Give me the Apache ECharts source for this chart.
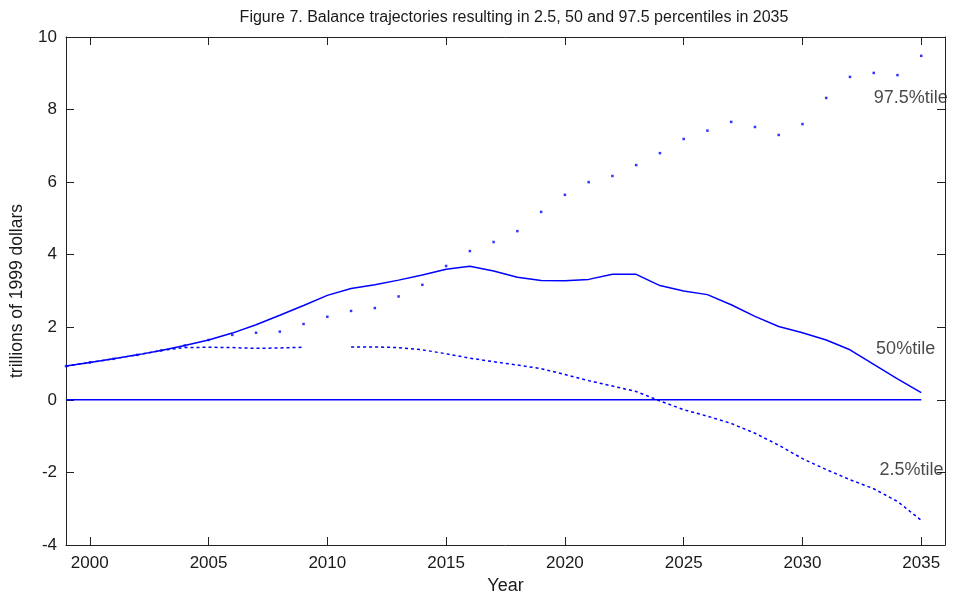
<!DOCTYPE html>
<html>
<head>
<meta charset="utf-8">
<script src="https://cdn.jsdelivr.net/npm/echarts@6/dist/echarts.min.js"></script>
<style>
html,body{margin:0;padding:0;background:#fff;}
#chart{width:953px;height:601px;}
</style>
</head>
<body>
<div id="chart"></div>
<script>
var years = [1999,2000,2001,2002,2003,2004,2005,2006,2007,2008,2009,2010,2011,2012,2013,2014,2015,2016,2017,2018,2019,2020,2021,2022,2023,2024,2025,2026,2027,2028,2029,2030,2031,2032,2033,2034,2035];
var p50 = [0.93,1.03,1.13,1.24,1.36,1.50,1.65,1.84,2.07,2.33,2.60,2.88,3.07,3.17,3.30,3.44,3.60,3.68,3.55,3.38,3.29,3.28,3.32,3.46,3.46,3.15,3.00,2.90,2.62,2.30,2.02,1.85,1.65,1.38,0.98,0.58,0.20];
var p025 = [0.93,1.03,1.13,1.24,1.36,1.44,1.45,1.44,1.42,1.43,1.45,null,1.46,1.46,1.44,1.38,1.27,1.15,1.05,0.96,0.86,0.70,0.53,0.38,0.23,-0.03,-0.27,-0.45,-0.65,-0.92,-1.25,-1.62,-1.92,-2.20,-2.45,-2.80,-3.32];
var p975 = [0.93,1.03,1.13,1.24,1.36,1.50,1.65,1.79,1.85,1.88,2.09,2.29,2.45,2.53,2.85,3.17,3.69,4.10,4.35,4.65,5.18,5.65,6.00,6.17,6.47,6.80,7.19,7.42,7.66,7.52,7.30,7.60,8.32,8.90,9.01,8.95,9.48];
var zeroLine = [[1999,0],[2035,0]];
var xTicks = [2000,2005,2010,2015,2020,2025,2030,2035];
var labelNames = ['97.5%tile','50%tile','2.5%tile'];
var labelPos = [[2033.0,8.32],[2033.1,1.40],[2033.24,-1.93]];

function pairs(ys){ return years.map(function(y,i){ return [y, ys[i]]; }); }

var FONT = "'Liberation Sans', Arial, sans-serif";
var BLUE = '#0000ff';
var AX = '#222';
var TXT = '#1a1a1a';

var chart = echarts.init(document.getElementById('chart'), null, {renderer:'canvas'});
var xBase = {
  type:'value', min:1999, max:2036,
  axisLine:{show:true, onZero:false, lineStyle:{color:AX, width:1}},
  axisTick:{show:true, inside:true, length:8, customValues:xTicks, lineStyle:{color:AX}},
  splitLine:{show:false}
};
var yBase = {
  type:'value', min:-4, max:10, interval:2,
  axisLine:{show:true, onZero:false, lineStyle:{color:AX, width:1}},
  axisTick:{show:true, inside:true, length:8, lineStyle:{color:AX}},
  splitLine:{show:false}
};
chart.setOption({
  animation:false,
  backgroundColor:'#fff',
  title:{
    text:'Figure 7. Balance trajectories resulting in 2.5, 50 and 97.5 percentiles in 2035',
    left:509, top:5, textAlign:'center',
    textStyle:{fontFamily:FONT, fontSize:16, fontWeight:'normal', color:TXT}
  },
  grid:{left:65, right:8, top:37, bottom:56, containLabel:false},
  xAxis:[
    Object.assign({}, xBase, {
      position:'bottom',
      name:'Year', nameLocation:'middle', nameGap:31,
      nameTextStyle:{fontFamily:FONT, fontSize:18, color:TXT},
      axisLabel:{show:true, customValues:xTicks, margin:10, fontFamily:FONT, fontSize:17, color:TXT,
                 formatter:function(v){ return String(v); }}
    }),
    Object.assign({}, xBase, {position:'top', axisLabel:{show:false}})
  ],
  yAxis:[
    Object.assign({}, yBase, {
      position:'left',
      name:'trillions of 1999 dollars', nameLocation:'middle', nameGap:40,
      nameTextStyle:{fontFamily:FONT, fontSize:17.5, color:TXT},
      axisLabel:{show:true, margin:9, fontFamily:FONT, fontSize:17, color:TXT}
    }),
    Object.assign({}, yBase, {position:'right', axisLabel:{show:false}})
  ],
  series:[
    {type:'line', name:'zero', data:zeroLine, showSymbol:false, silent:true,
     lineStyle:{color:BLUE, width:1.5}},
    {type:'line', name:'50%', data:pairs(p50), showSymbol:false,
     lineStyle:{color:BLUE, width:1.5}},
    {type:'line', name:'2.5%', data:pairs(p025), showSymbol:false, connectNulls:false,
     lineStyle:{color:BLUE, width:1.5, type:[3,3]}},
    {type:'scatter', name:'97.5%', data:pairs(p975), symbol:'rect', symbolSize:2.5,
     itemStyle:{color:BLUE}},
    {type:'scatter', name:'labels', symbolSize:0, silent:true,
     data:labelPos.map(function(p,i){ return {value:p, name:labelNames[i]}; }),
     label:{show:true, position:'right', distance:0, formatter:'{b}',
            fontFamily:FONT, fontSize:18, color:TXT}}
  ]
});
</script>
</body>
</html>
